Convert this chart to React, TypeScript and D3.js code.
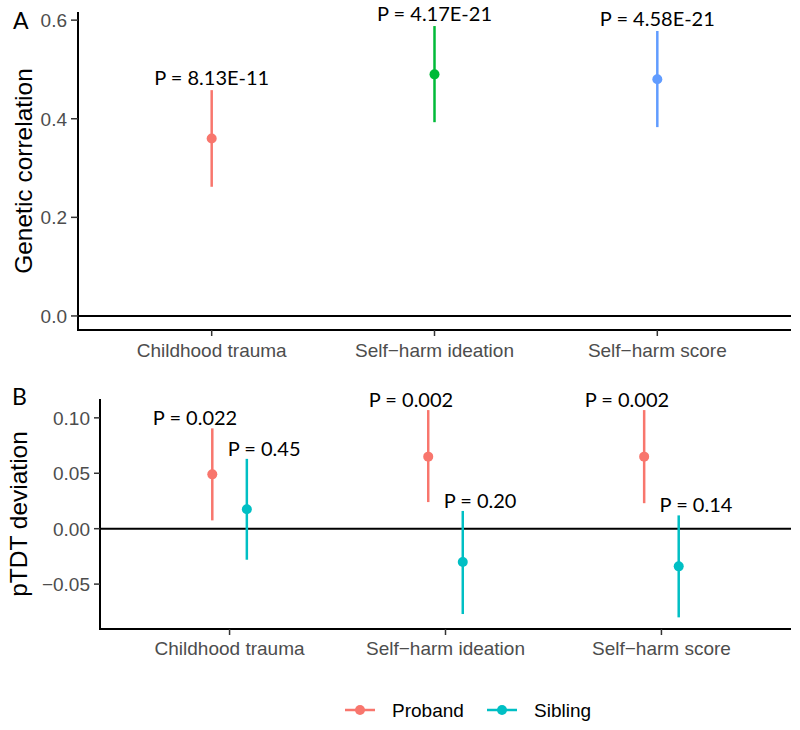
import React from "react";
import * as d3 from "d3";

const categories = ["Childhood trauma", "Self\u2212harm ideation", "Self\u2212harm score"];

// Panel A
const rgEst = [0.36, 0.49, 0.48];
const rgLow = [0.262, 0.393, 0.383];
const rgHigh = [0.458, 0.588, 0.578];
const rgP = ["P = 8.13E-11", "P = 4.17E-21", "P = 4.58E-21"];
const rgColors = ["#F8766D", "#00BA38", "#619CFF"];
const aTicks = [0.0, 0.2, 0.4, 0.6];

// Panel B
const groups = ["Proband", "Sibling"];
const groupColors = ["#F8766D", "#00BFC4"];
const probandEst = [0.049, 0.065, 0.065];
const probandLow = [0.0075, 0.024, 0.023];
const probandHigh = [0.0905, 0.107, 0.107];
const probandP = ["P = 0.022", "P = 0.002", "P = 0.002"];
const siblingEst = [0.0175, -0.030, -0.034];
const siblingLow = [-0.028, -0.077, -0.080];
const siblingHigh = [0.063, 0.016, 0.012];
const siblingP = ["P = 0.45", "P = 0.20", "P = 0.14"];
const bTicks = [-0.05, 0.0, 0.05, 0.1];

const labelFont = "Lato, 'Open Sans', sans-serif";
const tickFont = "'Liberation Sans', Arial, sans-serif";

export default function App() {
  const aLeft = 78, aRight = 791, aTop = 12, aBottom = 330;
  const xA = d3.scalePoint<string>().domain(categories).range([aLeft, aRight]).padding(0.6);
  const yA = d3.scaleLinear().domain([-0.0285, 0.6165]).range([aBottom, aTop]);

  const bLeft = 100, bRight = 791, bTop = 399, bBottom = 629;
  const xB = d3.scalePoint<string>().domain(categories).range([bLeft, bRight]).padding(0.6);
  const yB = d3.scaleLinear().domain([-0.0905, 0.117]).range([bBottom, bTop]);
  const step = xB.step();
  const dodge = 0.08 * step;
  const labelDodge = 0.16 * step;

  const bSeries = [
    { est: probandEst, low: probandLow, high: probandHigh, p: probandP, off: -dodge, loff: -labelDodge },
    { est: siblingEst, low: siblingLow, high: siblingHigh, p: siblingP, off: dodge, loff: labelDodge },
  ];

  const tickFmtA = d3.format(".1f");
  const tickFmtB = (v: number) => (v < 0 ? "\u2212" : "") + d3.format(".2f")(Math.abs(v));

  return (
    <svg width={800} height={730} style={{ position: "absolute", left: 0, top: 0, background: "#fff" }}>
      {/* Panel A */}
      <text x={13} y={29} fontFamily={labelFont} fontSize={23} fill="#000">A</text>
      <line x1={aLeft} x2={aRight} y1={yA(0)} y2={yA(0)} stroke="#000" strokeWidth={2} />
      <line x1={aLeft} x2={aLeft} y1={aTop} y2={aBottom} stroke="#000" strokeWidth={2} />
      <line x1={aLeft - 1} x2={aRight} y1={aBottom} y2={aBottom} stroke="#000" strokeWidth={2} />
      {aTicks.map((t) => (
        <g key={"at" + t}>
          <line x1={aLeft - 7} x2={aLeft} y1={yA(t)} y2={yA(t)} stroke="#333" strokeWidth={1.5} />
          <text x={aLeft - 11} y={yA(t)} dy="0.36em" textAnchor="end" fontFamily={tickFont} fontSize={19} fill="#4D4D4D">{tickFmtA(t)}</text>
        </g>
      ))}
      {categories.map((c) => (
        <g key={"ax" + c}>
          <line x1={xA(c)} x2={xA(c)} y1={aBottom} y2={aBottom + 6} stroke="#333" strokeWidth={1.5} />
          <text x={xA(c)} y={aBottom + 27} textAnchor="middle" fontFamily={tickFont} fontSize={19} fill="#4D4D4D">{c}</text>
        </g>
      ))}
      <text transform={`translate(32,${(aTop + aBottom) / 2}) rotate(-90)`} textAnchor="middle" fontFamily={tickFont} fontSize={24.5} fill="#000">Genetic correlation</text>
      {categories.map((c, i) => (
        <g key={"ap" + c}>
          <line x1={xA(c)} x2={xA(c)} y1={yA(rgLow[i])} y2={yA(rgHigh[i])} stroke={rgColors[i]} strokeWidth={2.5} />
          <circle cx={xA(c)} cy={yA(rgEst[i])} r={5} fill={rgColors[i]} />
          <text x={xA(c)} y={yA(rgHigh[i]) - 5} textAnchor="middle" fontFamily={labelFont} fontSize={20} fill="#000">{rgP[i]}</text>
        </g>
      ))}

      {/* Panel B */}
      <text x={12} y={405} fontFamily={labelFont} fontSize={23} fill="#000">B</text>
      <line x1={bLeft} x2={bRight} y1={yB(0)} y2={yB(0)} stroke="#000" strokeWidth={2} />
      <line x1={bLeft} x2={bLeft} y1={bTop} y2={bBottom} stroke="#000" strokeWidth={2} />
      <line x1={bLeft - 1} x2={bRight} y1={bBottom} y2={bBottom} stroke="#000" strokeWidth={2} />
      {bTicks.map((t) => (
        <g key={"bt" + t}>
          <line x1={bLeft - 6} x2={bLeft} y1={yB(t)} y2={yB(t)} stroke="#333" strokeWidth={1.5} />
          <text x={bLeft - 10} y={yB(t)} dy="0.36em" textAnchor="end" fontFamily={tickFont} fontSize={19} fill="#4D4D4D">{tickFmtB(t)}</text>
        </g>
      ))}
      {categories.map((c) => (
        <g key={"bx" + c}>
          <line x1={xB(c)} x2={xB(c)} y1={bBottom} y2={bBottom + 6} stroke="#333" strokeWidth={1.5} />
          <text x={xB(c)} y={bBottom + 26} textAnchor="middle" fontFamily={tickFont} fontSize={19} fill="#4D4D4D">{c}</text>
        </g>
      ))}
      <text transform={`translate(27,${(bTop + bBottom) / 2}) rotate(-90)`} textAnchor="middle" fontFamily={tickFont} fontSize={24.5} fill="#000">pTDT deviation</text>
      {bSeries.map((s, g) =>
        categories.map((c, i) => (
          <g key={"bp" + g + c}>
            <line x1={xB(c)! + s.off} x2={xB(c)! + s.off} y1={yB(s.low[i])} y2={yB(s.high[i])} stroke={groupColors[g]} strokeWidth={2.5} />
            <circle cx={xB(c)! + s.off} cy={yB(s.est[i])} r={5} fill={groupColors[g]} />
            <text x={xB(c)! + s.loff} y={yB(s.high[i]) - 3} textAnchor="middle" fontFamily={labelFont} fontSize={20} fill="#000">{s.p[i]}</text>
          </g>
        ))
      )}

      {/* Legend */}
      {groups.map((gname, g) => {
        const x0 = g === 0 ? 345 : 487;
        return (
          <g key={"lg" + gname}>
            <line x1={x0} x2={x0 + 30} y1={710} y2={710} stroke={groupColors[g]} strokeWidth={2.5} />
            <circle cx={x0 + 15} cy={710} r={5} fill={groupColors[g]} />
            <text x={x0 + 47} y={710} dy="0.36em" fontFamily={tickFont} fontSize={19} fill="#000">{gname}</text>
          </g>
        );
      })}
    </svg>
  );
}
